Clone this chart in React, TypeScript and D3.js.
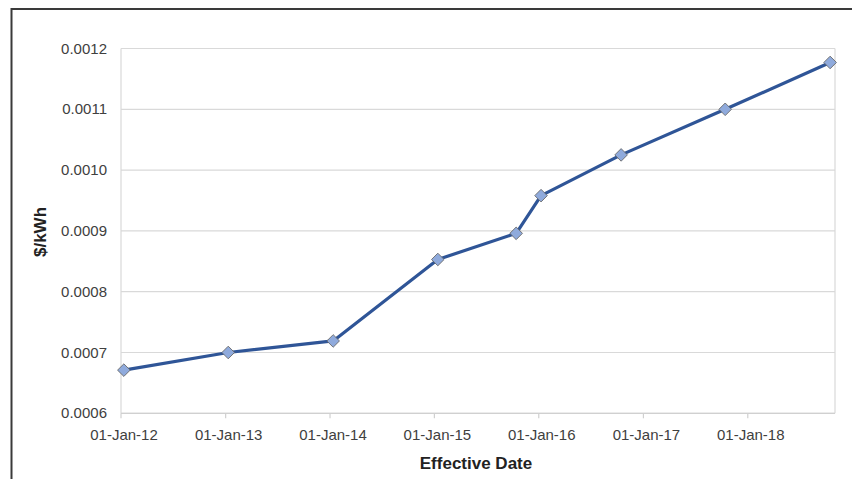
import React from "react";
import * as d3 from "d3";

const dates: string[] = [
  "2012-01-11",
  "2013-01-10",
  "2014-01-12",
  "2015-01-13",
  "2015-10-14",
  "2016-01-09",
  "2016-10-15",
  "2017-10-14",
  "2018-10-16",
];
const values: number[] = [
  0.000671, 0.0007, 0.000719, 0.000853, 0.000896, 0.000958, 0.001025, 0.0011, 0.001177,
];
const yTicks: number[] = [0.0006, 0.0007, 0.0008, 0.0009, 0.001, 0.0011, 0.0012];
const xTickDates: string[] = [
  "2012-01-01",
  "2013-01-01",
  "2014-01-01",
  "2015-01-01",
  "2016-01-01",
  "2017-01-01",
  "2018-01-01",
];
const xDomain: string[] = ["2012-01-01", "2018-11-02"];
const yDomain: number[] = [0.0006, 0.0012];
const xTitle = "Effective Date";
const yTitle = "$/kWh";

const W = 852;
const H = 479;
const left = 121;
const right = 835;
const top = 48.5;
const bottom = 413.3;

const parse = d3.utcParse("%Y-%m-%d");
const fmtX = d3.utcFormat("%d-%b-%y");

export default function App() {
  const x = d3
    .scaleUtc()
    .domain(xDomain.map((d) => parse(d) as Date))
    .range([left, right]);
  const y = d3.scaleLinear().domain(yDomain).range([bottom, top]);

  const pts = dates.map((d, i) => ({ date: parse(d) as Date, v: values[i] }));
  const line = d3
    .line<{ date: Date; v: number }>()
    .x((p) => x(p.date))
    .y((p) => y(p.v));

  const font = "'Liberation Sans', Arial, sans-serif";
  const r = 6.3;

  return (
    <svg
      width={W}
      height={H}
      style={{ position: "absolute", left: 0, top: 0, background: "#fff" }}
    >
      <rect x={0} y={0} width={W} height={H} fill="#fff" />
      {/* outer frame */}
      <rect x={11.5} y={9} width={W + 20} height={H + 20} fill="none" stroke="#3a3a3a" strokeWidth={2} />
      {/* gridlines */}
      {yTicks.map((t) => (
        <line key={t} x1={left} x2={right} y1={y(t)} y2={y(t)} stroke="#d9d9d9" strokeWidth={1.2} />
      ))}
      <line x1={left} x2={left} y1={top} y2={bottom} stroke="#d9d9d9" strokeWidth={1.2} />
      <line x1={right} x2={right} y1={top} y2={bottom} stroke="#d9d9d9" strokeWidth={1.2} />
      {/* x axis */}
      <line x1={left} x2={right} y1={bottom} y2={bottom} stroke="#d0d0d0" strokeWidth={1.2} />
      {xTickDates.map((d) => {
        const dt = parse(d) as Date;
        const xx = x(dt);
        return (
          <g key={d}>
            <line x1={xx} x2={xx} y1={bottom} y2={bottom + 5} stroke="#d0d0d0" strokeWidth={1.2} />
            <text x={xx + 3} y={440} textAnchor="middle" fontFamily={font} fontSize={15} fill="#404040">
              {fmtX(dt)}
            </text>
          </g>
        );
      })}
      {/* y labels */}
      {yTicks.map((t) => (
        <text
          key={"l" + t}
          x={107}
          y={y(t) + 5}
          textAnchor="end"
          fontFamily={font}
          fontSize={15}
          fill="#404040"
        >
          {d3.format(".4f")(t)}
        </text>
      ))}
      {/* titles */}
      <text
        transform={`translate(46,232) rotate(-90)`}
        textAnchor="middle"
        fontFamily={font}
        fontSize={17}
        fontWeight="bold"
        fill="#222"
      >
        {yTitle}
      </text>
      <text x={476} y={469} textAnchor="middle" fontFamily={font} fontSize={17} fontWeight="bold" fill="#222">
        {xTitle}
      </text>
      {/* line */}
      <path d={line(pts) || ""} fill="none" stroke="#2F5597" strokeWidth={3.2} strokeLinejoin="round" />
      {pts.map((p, i) => {
        const cx = x(p.date);
        const cy = y(p.v);
        return (
          <path
            key={i}
            d={`M${cx},${cy - r}L${cx + r},${cy}L${cx},${cy + r}L${cx - r},${cy}Z`}
            fill="#8FAADC"
            stroke="#6a6a6a"
            strokeWidth={0.9}
          />
        );
      })}
    </svg>
  );
}
